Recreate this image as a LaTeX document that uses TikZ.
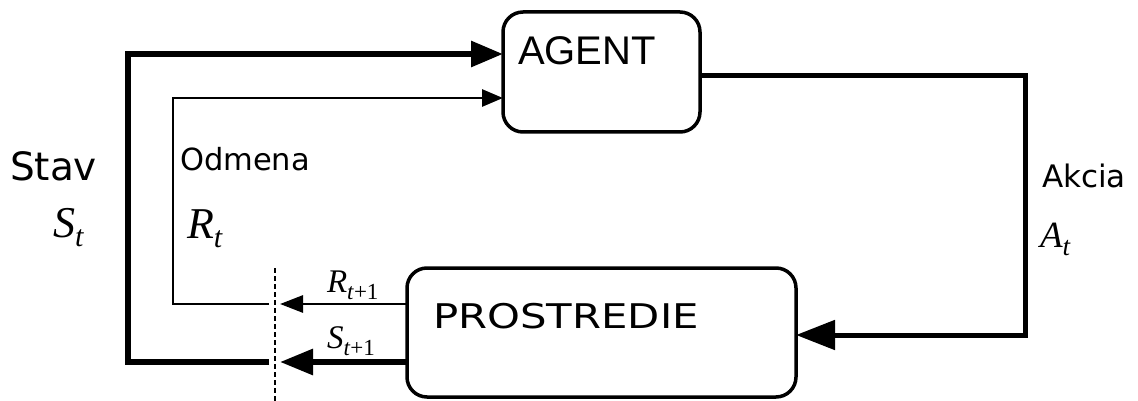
\documentclass[tikz,border=0pt]{standalone}
\usepackage{fontspec}
\setmainfont{DejaVu Sans}
\newfontfamily\lsans{Liberation Sans}
\newfontfamily\tms{Liberation Serif}
\usetikzlibrary{arrows.meta}
\newcommand\fsz[1]{\fontsize{#1}{#1}\selectfont}
\newcommand\mv[4]{{\tms\fsz{#3}\itshape #1\raisebox{-0.22em}{\fsz{#4}#2}}}
\tikzset{
  txt/.style={inner sep=0pt, outer sep=0pt, anchor=base west},
  box/.style={draw, line width=3.5pt, rounded corners=20pt, inner sep=0pt, outer sep=0pt},
  thk/.style={line width=6pt},
  thn/.style={line width=2.8pt},
  mid/.style={line width=5pt},
}
\begin{document}
\begin{tikzpicture}[x=1pt, y=-1pt]
\useasboundingbox (0,0) rectangle (1138,401);
% boxes
\node[box, minimum width=197pt, minimum height=120pt] (agent) at (601.5,72) {};
\node[box, minimum width=389pt, minimum height=129pt] (env) at (601.5,332.5) {};
\node[txt] (agentlbl) at (518,65) {\lsans\fsz{40}AGENT};
\node[txt] (envlbl) at (433,328) {\fsz{34}\scalebox{1.23}[1]{PROSTREDIE}};
% labels
\node[txt] (stav) at (10,181) {\fsz{39}Stav};
\node[txt] (odmena) at (180,171) {\fsz{30.5}Odmena};
\node[txt] (akcia) at (1042,187) {\fsz{31}Akcia};
\node[txt] (st) at (53,237) {\mv{S}{t}{44}{30}};
\node[txt] (rt) at (187,238) {\mv{R}{t}{44}{30}};
\node[txt] (at) at (1040,247) {\mv{A}{t}{37}{27}};
\node[txt] (rt1) at (327,292) {\mv{R}{t\textup{+1}}{33}{23}};
\node[txt] (st1) at (327,348) {\mv{S}{t\textup{+1}}{33}{23}};
% coordinates
\coordinate (sTip) at (280,362);
\coordinate (sEnd) at (269,362);
\coordinate (rTip) at (280,304);
\coordinate (rEnd) at (269,304);
\coordinate (aS) at (0,54);
\coordinate (aR) at (0,98);
\coordinate (ag) at (0,76);
\coordinate (rc) at (1025,335);
\coordinate (d1) at (275,268);
\coordinate (d2) at (275,401);
% dashed separator
\draw[line width=1.5pt, dash pattern=on 5pt off 3pt] (d1) -- (d2);
% environment -> separator
\draw[thk, -{Triangle[length=33pt,width=25pt]}] (env.west |- sTip) -- (sTip);
\draw[thn, -{Triangle[length=23pt,width=17pt]}] (env.west |- rTip) -- (rTip);
% separator -> agent
\draw[thk, -{Triangle[length=32pt,width=25pt]}, line join=miter] (sEnd) -- ++(-141,0) |- (agent.west |- aS);
\draw[thn, -{Triangle[length=21pt,width=17pt]}, line join=miter] (rEnd) -- ++(-96,0) |- (agent.west |- aR);
% agent -> environment
\draw[mid, -{Triangle[length=39pt,width=29pt]}, line join=miter] (agent.east |- ag) -| (rc) -- (env.east |- rc);
\end{tikzpicture}
\end{document}
